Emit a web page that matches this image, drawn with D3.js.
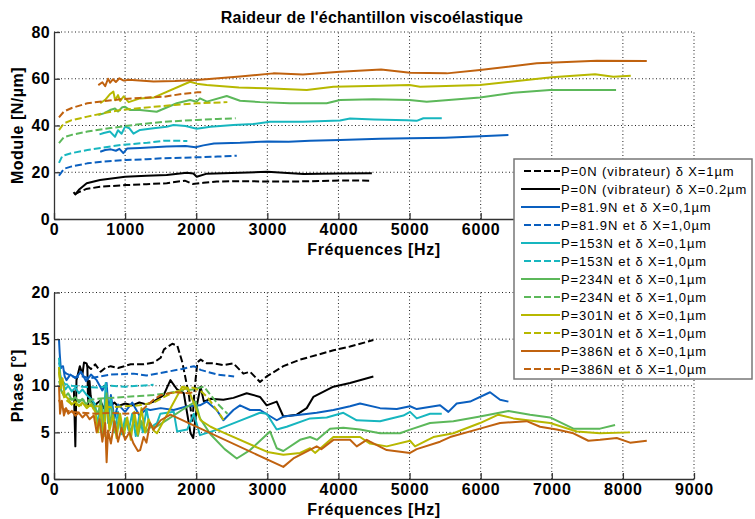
<!DOCTYPE html>
<html>
<head>
<meta charset="utf-8">
<script src="https://cdn.jsdelivr.net/npm/d3@7"></script>
<style>
  html, body { margin: 0; padding: 0; background: #fff; }
  svg { display: block; }
  text { font-family: "Liberation Sans", Arial, Helvetica, sans-serif; fill: #000; }
</style>
</head>
<body>
<svg id="chart" width="755" height="519"></svg>
<script>
// ---------- DATA ----------
const titleText = "Raideur de l'échantillon viscoélastique";
const xLabel = "Fréquences [Hz]";
const yLabelTop = "Module [N/µm]";
const yLabelBottom = "Phase [°]";

const freqTicks = [0, 1000, 2000, 3000, 4000, 5000, 6000, 7000, 8000, 9000];
const moduleTicks = [0, 20, 40, 60, 80];
const phaseTicks = [0, 5, 10, 15, 20];

const legendLabels = [
  "P=0N (vibrateur) δ X=1µm",
  "P=0N (vibrateur) δ X=0.2µm",
  "P=81.9N et δ X=0,1µm",
  "P=81.9N et δ X=1,0µm",
  "P=153N et δ X=0,1µm",
  "P=153N et δ X=1,0µm",
  "P=234N et δ X=0,1µm",
  "P=234N et δ X=1,0µm",
  "P=301N et δ X=0,1µm",
  "P=301N et δ X=1,0µm",
  "P=386N et δ X=0,1µm",
  "P=386N et δ X=1,0µm"
];

// Module (top) series: [frequency Hz, module N/µm]
const modBlackDash = [[290,10.5],[350,11.5],[450,12.8],[647,13.8],[1000,14.5],[1300,14.9],[1585,15.3],[1840,16.4],[1950,15.0],[2100,15.5],[2290,16.0],[2616,16.2],[3085,16.0],[3500,16.1],[4022,16.5],[4470,16.4]];
const modBlackSolid = [[275,11.5],[300,10.5],[350,12.5],[460,15.3],[647,16.7],[1000,18.1],[1300,18.5],[1585,18.8],[1866,19.8],[1960,19.5],[2007,18.1],[2150,19.4],[2616,19.8],[3000,20.2],[3507,19.3],[4000,19.5],[4470,19.6]];
const modBlue01 = [[650,28.8],[720,29.5],[800,29.8],[870,29.2],[920,30.0],[975,28.2],[1030,30.2],[1210,30.4],[1585,31.0],[1850,31.2],[1990,30.7],[2100,31.5],[2250,32.3],[2616,32.6],[3000,33.2],[3300,33.0],[3600,33.5],[4022,33.8],[4585,34.3],[5000,34.5],[5500,34.8],[6000,35.4],[6390,35.9]];
const modBlue10 = [[70,18.5],[140,21.5],[250,22.5],[469,23.8],[700,24.6],[1008,25.2],[1300,25.6],[1547,26.0],[2015,26.4],[2300,26.7],[2570,27.1]];
const modCyan01 = [[640,36.2],[700,36.8],[788,37.4],[858,35.2],[900,38.0],[950,36.5],[1000,39.5],[1060,38.8],[1118,36.5],[1210,38.1],[1400,38.8],[1585,39.5],[1680,40.2],[1850,39.8],[2007,38.6],[2200,39.5],[2522,40.2],[2800,40.6],[3038,41.6],[3500,41.6],[4022,42.1],[4163,43.0],[4500,42.6],[4960,42.2],[5100,42.0],[5194,43.1],[5453,43.1]];
const modCyan10 = [[70,24.0],[117,27.0],[250,28.2],[469,29.5],[700,30.6],[938,31.7],[1313,32.6],[1547,33.5],[1875,33.4]];
const modGreen01 = [[623,44.5],[700,45.2],[788,46.6],[858,47.3],[900,46.0],[960,47.8],[1000,48.0],[1070,46.6],[1210,46.6],[1444,45.9],[1726,49.5],[1913,50.9],[2007,50.2],[2053,51.6],[2150,50.2],[2429,52.6],[2616,50.6],[2900,50.0],[3319,49.5],[3835,49.5],[4022,50.9],[4491,51.2],[5000,50.9],[5241,50.2],[5991,52.0],[6460,54.0],[6976,55.2],[7904,55.2]];
const modGreen10 = [[70,32.5],[140,35.0],[250,36.0],[469,37.4],[700,38.5],[938,39.5],[1200,40.5],[1547,41.6],[2015,42.4],[2300,42.8],[2555,43.1]];
const modYellow01 = [[650,49.5],[720,51.0],[790,53.5],[835,54.5],[860,50.8],[900,53.0],[930,50.5],[980,52.5],[1050,50.0],[1210,51.6],[1406,52.0],[1913,58.7],[2007,57.9],[2147,57.3],[2600,56.3],[2991,55.9],[3554,55.2],[3929,56.6],[4585,57.0],[5000,57.3],[5148,56.6],[5991,57.3],[7000,60.6],[7609,61.9],[7866,60.9],[8111,61.3]];
const modYellow10 = [[70,38.0],[140,40.9],[250,42.3],[469,43.8],[700,45.3],[938,46.6],[1406,48.0],[1700,48.8],[2015,49.5],[2438,50.0]];
const modOrange01 = [[623,57.3],[680,58.5],[720,56.8],[760,60.0],[790,58.3],[830,59.8],[870,58.6],[920,60.2],[980,59.2],[1050,59.6],[1200,59.2],[1400,58.8],[1700,59.0],[2007,59.5],[2616,61.0],[3085,62.3],[3500,61.8],[4022,63.0],[4600,64.0],[5007,62.6],[5523,62.3],[5991,63.7],[6789,66.6],[7632,67.7],[8336,67.6]];
const modOrange10 = [[70,43.5],[140,46.0],[250,47.5],[469,49.5],[700,50.4],[938,51.2],[1200,51.8],[1547,52.3],[1800,53.5],[2015,54.2],[2110,54.3]];

// Phase (bottom) series: [frequency Hz, phase °]
const phBlackDash = [[460,12.2],[520,11.8],[580,12.3],[656,11.5],[720,11.9],[797,12.1],[900,11.9],[1078,12.3],[1266,12.3],[1406,12.5],[1500,13.0],[1547,13.9],[1664,14.5],[1734,14.3],[1805,12.5],[1899,8.9],[1946,6.0],[1975,9.5],[2016,12.5],[2063,12.8],[2150,12.4],[2241,12.4],[2382,12.2],[2523,12.4],[2663,11.3],[2757,11.5],[2897,10.4],[2991,11.0],[3225,12.1],[3460,12.8],[3929,13.8],[4163,14.2],[4491,14.9]];
const phBlackSolid = [[280,9.5],[300,3.5],[316,10.6],[363,12.1],[400,11.2],[422,12.5],[458,12.4],[469,12.1],[480,7.8],[500,10.5],[516,8.9],[560,7.5],[600,8.1],[650,8.4],[700,7.6],[750,8.3],[790,7.8],[850,8.2],[900,7.8],[1000,8.1],[1100,7.9],[1200,8.2],[1300,8.0],[1400,8.3],[1542,9.0],[1637,10.6],[1731,9.6],[1825,9.2],[1920,4.9],[1958,4.4],[2014,8.1],[2061,9.9],[2108,8.3],[2200,8.6],[2382,8.5],[2523,8.7],[2710,9.2],[2897,8.8],[2991,7.9],[3132,8.3],[3225,6.7],[3413,6.9],[3554,7.6],[3647,8.8],[3929,9.9],[4163,10.3],[4491,11.0]];
const phBlue01 = [[70,15.0],[80,13.5],[94,12.0],[127,12.1],[150,11.0],[175,10.6],[230,11.2],[300,10.8],[380,11.5],[450,10.5],[520,11.2],[600,10.6],[680,9.5],[740,10.3],[770,7.0],[800,9.0],[850,6.5],[900,8.0],[1000,7.2],[1100,8.2],[1200,6.8],[1300,7.5],[1354,7.4],[1500,7.6],[1684,7.4],[1873,7.8],[2053,7.9],[2147,8.3],[2288,7.4],[2382,6.3],[2523,7.4],[2616,7.9],[2757,7.4],[2897,7.4],[3132,6.3],[3225,6.7],[3460,6.9],[3694,7.1],[3929,7.4],[4163,7.8],[4304,8.1],[4585,7.6],[4820,7.5],[5007,7.8],[5101,7.5],[5429,7.9],[5546,7.2],[5663,8.1],[5851,8.3],[6132,9.3],[6273,8.5],[6390,8.3]];
const phBlue10 = [[70,12.5],[100,11.8],[175,11.3],[300,10.9],[410,11.0],[500,10.8],[646,11.0],[800,11.2],[1118,11.3],[1300,11.1],[1590,11.5],[1800,11.8],[1967,12.1],[2061,11.7],[2297,11.2],[2533,11.0]];
const phCyan01 = [[70,13.0],[90,11.0],[120,10.2],[160,9.6],[200,10.0],[250,9.4],[300,9.8],[350,9.2],[400,9.6],[460,9.0],[520,8.6],[580,8.0],[609,5.8],[650,7.5],[690,4.5],[727,10.3],[760,6.0],[800,8.5],[850,5.0],[900,7.2],[950,4.8],[1000,6.5],[1050,5.2],[1100,7.0],[1150,4.6],[1200,6.8],[1250,5.0],[1300,7.5],[1350,5.5],[1448,6.0],[1495,7.0],[1684,7.2],[1731,5.1],[1873,5.3],[1967,7.0],[2053,4.7],[2297,5.3],[2600,6.2],[2897,7.1],[2991,7.0],[3132,5.3],[3272,5.6],[3601,6.5],[3835,6.6],[4069,7.1],[4257,6.3],[4585,6.2],[4913,6.8],[5007,7.2],[5101,6.5],[5288,7.0],[5453,7.0]];
const phCyan10 = [[70,11.5],[100,10.8],[150,10.2],[250,10.0],[400,9.9],[600,9.8],[800,10.0],[1000,9.9],[1200,10.0],[1400,10.1]];
const phGreen01 = [[70,12.0],[100,9.5],[150,8.8],[200,9.2],[250,8.5],[300,8.8],[350,8.2],[400,8.6],[450,8.0],[500,8.4],[560,7.8],[620,7.0],[660,8.5],[700,6.0],[740,9.2],[780,5.5],[820,7.5],[870,5.0],[920,6.8],[970,4.8],[1020,6.5],[1080,5.0],[1130,6.6],[1180,4.6],[1230,6.2],[1290,5.0],[1350,5.6],[1440,5.6],[1600,6.4],[1800,7.4],[1990,8.3],[2053,6.5],[2200,4.8],[2400,3.2],[2570,2.2],[2757,3.1],[3038,5.1],[3132,3.3],[3225,3.0],[3460,4.2],[3601,4.5],[3700,4.2],[3882,5.4],[4069,5.5],[4304,5.3],[4585,4.9],[4866,4.9],[5007,5.3],[5288,6.0],[5616,6.2],[5991,6.7],[6390,7.3],[6695,6.9],[6976,6.6],[7304,5.4],[7679,5.4],[7890,5.8]];
const phGreen10 = [[70,10.5],[120,9.2],[200,8.6],[300,8.5],[450,8.4],[600,8.6],[800,8.7],[1000,8.8],[1200,8.9],[1400,9.0],[1600,9.2],[1800,9.5],[1950,9.6],[2108,9.9],[2297,8.1],[2439,7.0]];
const phYellow01 = [[70,12.0],[90,9.8],[120,10.8],[150,9.0],[200,8.6],[250,8.0],[300,8.3],[350,7.8],[400,8.2],[460,7.6],[520,8.0],[580,7.2],[620,5.0],[660,7.8],[700,4.6],[740,8.5],[780,5.2],[830,6.8],[880,4.4],[930,7.0],[980,4.6],[1030,6.6],[1080,4.2],[1130,7.2],[1180,4.8],[1230,7.6],[1280,5.0],[1330,6.4],[1400,5.2],[1448,4.9],[1802,9.9],[1880,9.8],[2061,6.3],[2203,5.6],[2288,5.3],[3000,2.9],[3225,2.6],[3460,2.8],[3601,3.3],[3671,2.8],[3929,4.5],[4304,4.5],[4444,3.8],[4679,3.5],[5007,4.1],[5077,3.5],[5335,4.5],[5616,4.9],[5991,6.0],[6249,6.9],[6460,6.5],[6976,6.0],[7351,5.1],[7679,4.9],[8101,5.0]];
const phYellow10 = [[70,11.5],[100,9.8],[150,8.6],[250,8.0],[400,7.9],[600,7.8],[800,7.7],[1000,7.8],[1200,7.9],[1400,8.2],[1600,9.0],[1800,9.6],[1950,9.8],[2053,9.5],[2155,8.8],[2335,6.9],[2405,6.1]];
const phOrange01 = [[70,10.0],[85,7.0],[110,8.4],[140,6.8],[170,7.6],[200,7.0],[250,7.3],[300,6.8],[350,7.1],[400,6.6],[450,7.0],[500,6.4],[560,6.8],[600,5.0],[640,6.4],[680,4.0],[720,6.0],[740,1.8],[760,5.2],[800,3.8],[850,6.2],[900,4.0],[950,5.5],[1000,4.2],[1060,5.0],[1118,3.8],[1180,3.0],[1212,3.1],[1260,4.5],[1300,3.9],[1350,6.0],[1400,5.3],[1450,5.8],[1500,6.3],[1637,6.9],[3225,1.3],[3366,2.2],[3694,3.5],[3760,3.2],[3929,4.2],[4163,4.2],[4257,3.5],[4398,4.2],[4444,4.0],[4679,3.1],[5007,2.8],[5101,3.2],[5429,4.0],[5570,4.5],[5991,5.4],[6273,6.0],[6648,6.2],[6835,5.6],[7070,5.3],[7304,4.9],[7515,4.1],[7679,4.2],[7913,4.4],[8101,3.9],[8336,4.1]];
const phOrange10 = [[70,8.5],[100,7.8],[150,7.4],[250,7.2],[400,7.1],[600,7.0],[800,7.1],[1000,7.0],[1200,7.1],[1400,8.5],[1500,9.0],[1700,9.3],[1900,9.2],[2000,9.4]];

// ---------- STYLES ----------
const seriesColors = ["#000000","#000000","#0a5fbf","#0a5fbf","#17b6bf","#17b6bf","#5cb85a","#5cb85a","#b7b800","#b7b800","#c0620f","#c0620f"];
const seriesDashed = [true,false,false,true,false,true,false,true,false,true,false,true];
const moduleSeries = [modBlackDash, modBlackSolid, modBlue01, modBlue10, modCyan01, modCyan10, modGreen01, modGreen10, modYellow01, modYellow10, modOrange01, modOrange10];
const phaseSeries = [phBlackDash, phBlackSolid, phBlue01, phBlue10, phCyan01, phCyan10, phGreen01, phGreen10, phYellow01, phYellow10, phOrange01, phOrange10];

// ---------- DRAW ----------
const svg = d3.select("#chart");
const x = d3.scaleLinear().domain([0, 9000]).range([54, 694]);
const yTop = d3.scaleLinear().domain([0, 80]).range([219, 32]);
const yBot = d3.scaleLinear().domain([0, 20]).range([479, 292.5]);
const legendBox = { x: 514, y: 159, w: 238, h: 220 };

function drawPanel(yScale, yTicks, series, yLabel, labelBaseline) {
  const g = svg.append("g");
  const [y0, y1] = yScale.range();
  // grid
  g.append("g").selectAll("line").data(freqTicks.filter(d => d > 0)).join("line")
    .attr("x1", d => x(d)).attr("x2", d => x(d)).attr("y1", y0).attr("y2", y1)
    .attr("stroke", "#222").attr("stroke-width", 1).attr("stroke-dasharray", "1,2.5");
  g.append("g").selectAll("line").data(yTicks.filter(d => d > 0)).join("line")
    .attr("x1", x(0)).attr("x2", x(9000)).attr("y1", d => yScale(d)).attr("y2", d => yScale(d))
    .attr("stroke", "#222").attr("stroke-width", 1).attr("stroke-dasharray", "1,2.5");

  // series
  const line = d3.line().x(d => x(d[0])).y(d => yScale(d[1]));
  series.forEach((s, i) => {
    g.append("path").datum(s).attr("d", line)
      .attr("fill", "none").attr("stroke", seriesColors[i]).attr("stroke-width", 2)
      .attr("stroke-linejoin", "round")
      .attr("stroke-dasharray", seriesDashed[i] ? "7,3" : null);
  });

  // axes
  const xa = g.append("g").attr("transform", `translate(0,${y0})`)
    .call(d3.axisBottom(x).tickValues(freqTicks).tickFormat(d3.format("d")).tickSizeInner(-6).tickSizeOuter(0).tickPadding(5));
  const ya = g.append("g").attr("transform", `translate(${x(0)},0)`)
    .call(d3.axisLeft(yScale).tickValues(yTicks).tickFormat(d3.format("d")).tickSizeInner(-6).tickSizeOuter(0).tickPadding(4));
  [xa, ya].forEach(a => {
    a.select(".domain").attr("stroke", "#333").attr("stroke-width", 1.3);
    a.selectAll(".tick line").attr("stroke", "#333").attr("stroke-width", 1.3);
    a.selectAll(".tick text").attr("font-family", "Liberation Sans, Arial, sans-serif")
      .attr("font-size", 16).attr("font-weight", "bold").attr("fill", "#000");
  });
  xa.selectAll(".tick text").attr("letter-spacing", "0.8px");
  ya.selectAll(".tick text").attr("letter-spacing", "0.4px");
  // tick labels hidden behind the legend box in the original
  const labelTop = y0 + 5;
  if (labelTop < legendBox.y + legendBox.h && labelTop + 14 > legendBox.y) {
    xa.selectAll(".tick text").filter(d => x(d) + 22 > legendBox.x).remove();
  }

  // labels
  g.append("text").attr("x", 374).attr("y", labelBaseline)
    .attr("text-anchor", "middle").attr("font-size", 16).attr("font-weight", "bold")
    .attr("letter-spacing", "0.6px").text(xLabel);
  g.append("text").attr("transform", `translate(23,${(y0 + y1) / 2}) rotate(-90)`)
    .attr("text-anchor", "middle").attr("font-size", 16).attr("font-weight", "bold")
    .attr("letter-spacing", "0.5px").text(yLabel);
}

drawPanel(yTop, moduleTicks, moduleSeries, yLabelTop, 255);
drawPanel(yBot, phaseTicks, phaseSeries, yLabelBottom, 515);

// title
svg.append("text").attr("x", 372).attr("y", 22.5).attr("text-anchor", "middle")
  .attr("font-size", 16).attr("font-weight", "bold").attr("letter-spacing", "0.2px").text(titleText);

// legend
const lg = svg.append("g");
lg.append("rect").attr("x", legendBox.x).attr("y", legendBox.y).attr("width", legendBox.w).attr("height", legendBox.h)
  .attr("fill", "#fff").attr("stroke", "#777").attr("stroke-width", 1.5);
legendLabels.forEach((lab, i) => {
  const cy = 171 + 18 * i;
  lg.append("line").attr("x1", seriesDashed[i] ? 524 : 521).attr("x2", 560).attr("y1", cy).attr("y2", cy)
    .attr("stroke", seriesColors[i]).attr("stroke-width", 2)
    .attr("stroke-dasharray", seriesDashed[i] ? "7,3" : null);
  lg.append("text").attr("x", 561).attr("y", cy + 4.7).attr("font-size", 13)
    .attr("letter-spacing", "0.9px").text(lab);
});
</script>
</body>
</html>
